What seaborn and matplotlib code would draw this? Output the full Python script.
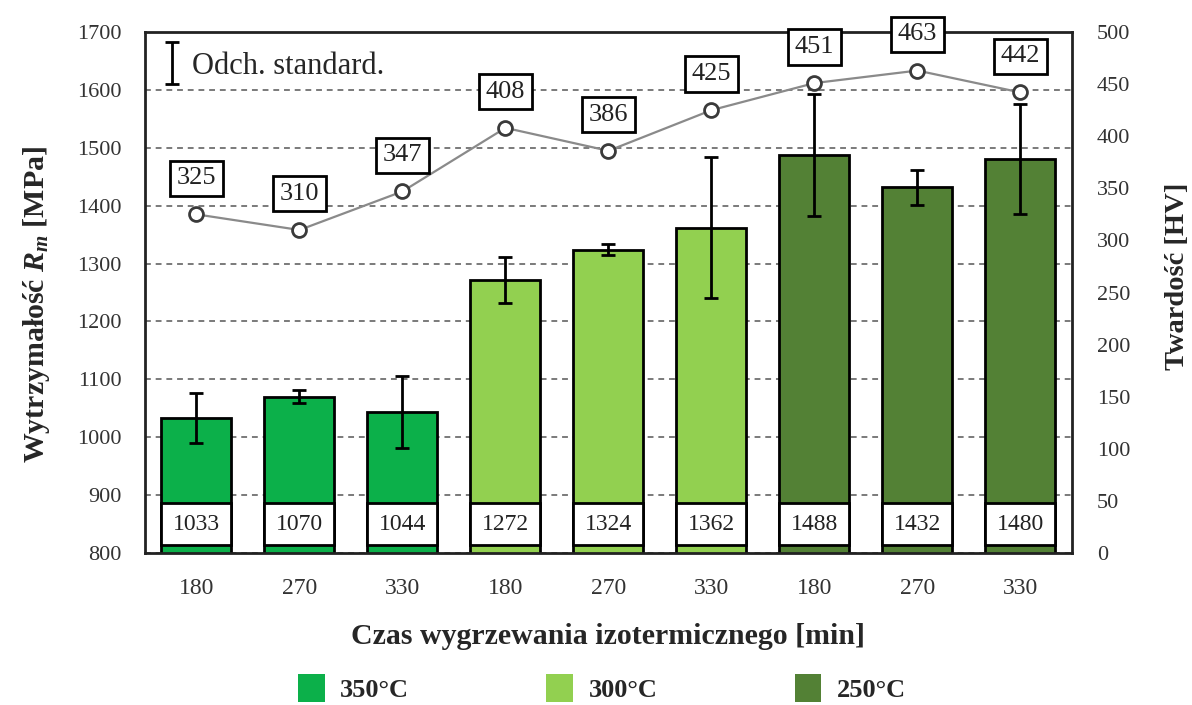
import numpy as np
import pandas as pd
import matplotlib
matplotlib.use("Agg")
import matplotlib.pyplot as plt
from matplotlib.patches import Patch, Rectangle
from matplotlib.legend_handler import HandlerErrorbar
import seaborn as sns

# --- data -------------------------------------------------------------
temps = ["350°C", "350°C", "350°C", "300°C", "300°C", "300°C", "250°C", "250°C", "250°C"]
times = ["180", "270", "330", "180", "270", "330", "180", "270", "330"]
rm_mpa = [1033, 1070, 1044, 1272, 1324, 1362, 1488, 1432, 1480]
rm_sd = [43, 11, 62, 40, 10, 122, 105, 30, 95]
hardness_hv = [325, 310, 347, 408, 386, 425, 451, 463, 442]
temp_colors = {"350°C": "#0CB04A", "300°C": "#92D050", "250°C": "#538135"}
legend_order = ["350°C", "300°C", "250°C"]

samples = [f"{t}-{m}" for t, m in zip(temps, times)]
df = pd.DataFrame({"sample": samples, "temp": temps, "time": times, "rm": rm_mpa})

# --- style ------------------------------------------------------------
sns.set_style("white")
plt.rcParams["font.family"] = ["Liberation Serif", "DejaVu Serif"]
plt.rcParams["mathtext.fontset"] = "custom"
plt.rcParams["mathtext.rm"] = "Liberation Serif:bold"
plt.rcParams["mathtext.it"] = "Liberation Serif:italic:bold"

fig = plt.figure(figsize=(11.92, 7.05), dpi=100)
ax = fig.add_axes([0.1216, 0.2156, 0.7777, 0.739])

bar_width = 0.68
sns.barplot(data=df, x="sample", y="rm", hue="temp", palette=temp_colors,
            dodge=False, width=bar_width, edgecolor="black", linewidth=2,
            saturation=1, legend=False, ax=ax, zorder=2)

pos = np.arange(len(rm_mpa))
err = ax.errorbar(pos, rm_mpa, yerr=rm_sd, fmt="none", ecolor="black",
                  elinewidth=2, capsize=5, capthick=2, zorder=4)

# value boxes at the foot of each bar
for x, v in zip(pos, rm_mpa):
    ax.add_patch(Rectangle((x - bar_width / 2, 814), bar_width, 72,
                           facecolor="white", edgecolor="black", lw=2, zorder=3))
    ax.text(x, 850, f"{v}", ha="center", va="center", fontsize=17,
            color="#222222", zorder=5)

ax.set_ylim(800, 1700)
ax.set_xlim(-0.5, len(rm_mpa) - 0.5)
ax.set_yticks(np.arange(800, 1701, 100))
ax.set_xticks(pos)
ax.set_xticklabels(times)
ax.set_axisbelow(True)
ax.yaxis.grid(True, color="#7a7a7a", linestyle=(0, (3, 2.5)), linewidth=1.4)
ax.xaxis.grid(False)
ax.tick_params(axis="both", length=0, labelsize=16, labelcolor="#333333")
ax.tick_params(axis="x", pad=18, labelsize=17)
ax.tick_params(axis="y", pad=17)
for s in ax.spines.values():
    s.set_color("#222222")
    s.set_linewidth(2)

ax.set_xlabel("Czas wygrzewania izotermicznego [min]", fontsize=21.5,
              fontweight="bold", labelpad=17)
ax.set_ylabel(r"Wytrzymałość $R_m$ [MPa]", fontsize=21.5, fontweight="bold")
ax.yaxis.set_label_coords(-0.1, 0.478)

# --- hardness on the secondary axis ------------------------------------
ax2 = ax.twinx()
sns.lineplot(x=pos, y=hardness_hv, ax=ax2, color="#8a8a8a", linewidth=1.6,
             marker="o", markersize=10, markerfacecolor="white",
             markeredgecolor="#3a3a3a", markeredgewidth=2, zorder=3)
for x, h in zip(pos, hardness_hv):
    ax2.annotate(f"{h}", (x, h), xytext=(0, 26), textcoords="offset points",
                 ha="center", va="center", fontsize=19, color="#222222",
                 annotation_clip=False, zorder=6,
                 bbox=dict(boxstyle="square,pad=0.25", facecolor="white",
                           edgecolor="black", linewidth=2))
ax2.set_ylim(0, 500)
ax2.set_yticks(np.arange(0, 501, 50))
ax2.tick_params(axis="y", length=0, labelsize=16, labelcolor="#333333", pad=18)
ax2.set_ylabel("Twardość [HV]", fontsize=20.5, fontweight="bold")
ax2.yaxis.set_label_coords(1.1, 0.532)
for s in ax2.spines.values():
    s.set_visible(False)

# standard deviation key
ax.legend([err], ["Odch. standard."], loc="upper left", frameon=False,
          fontsize=22, handlelength=0.5, handletextpad=0.4,
          borderaxespad=0.25, bbox_to_anchor=(0.0, 1.0),
          handler_map={type(err): HandlerErrorbar(yerr_size=0.68)})

# temperature key below the chart
handles = [Patch(facecolor=temp_colors[t], edgecolor="none") for t in legend_order]
fig.legend(handles, legend_order, loc="lower center", ncol=3, frameon=False,
           bbox_to_anchor=(0.505, -0.03), handlelength=1.02, handleheight=1.25,
           handletextpad=0.57, columnspacing=5.2,
           prop={"weight": "bold", "size": 19})

fig.savefig("out.png", dpi=100)
